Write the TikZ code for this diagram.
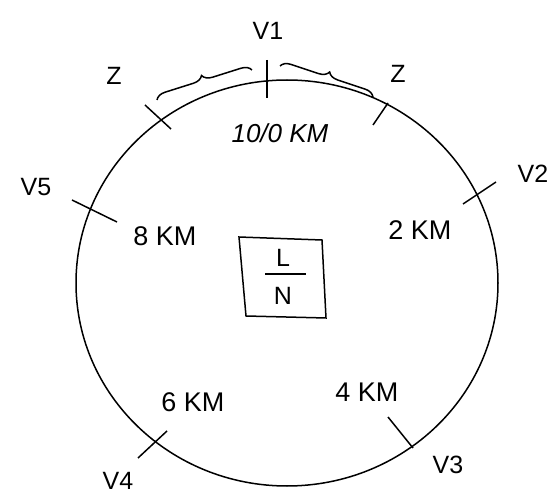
\documentclass[tikz,border=0pt]{standalone}
\usepackage{fontspec}
\setmainfont{Liberation Sans}
\usetikzlibrary{decorations.pathreplacing}

\begin{document}
\begin{tikzpicture}[x=1pt, y=-1pt, line width=1.5pt,
    etiqueta/.style={inner sep=0pt, font=\fontsize{25}{28}\selectfont},
    distancia/.style={inner sep=0pt, font=\fontsize{27}{30}\selectfont},
    llave/.style={decorate, decoration={brace, amplitude=10pt}}]
    \useasboundingbox (0,0) rectangle (555,497);

    % Anillo
    \draw (287,283) ellipse [x radius=211, y radius=203];

    % Marcas sobre el anillo
    \draw (267,60) -- (267,98);
    \draw (145,105) -- (171,129);
    \draw (373,125) -- (388,103);
    \draw (463,204) -- (496,182);
    \draw (72,200) -- (117,222);
    \draw (138,458) -- (167,431);
    \draw (388,417) -- (413,448);

    % Llaves de la zona
    \draw[llave] (157,100) -- (252,70);
    \draw[llave] (280,66) -- (373,97);

    % Nombres de los puntos
    \node[etiqueta] (v1) at (268,31) {V1};
    \node[etiqueta] (v2) at (533,174) {V2};
    \node[etiqueta] (v3) at (448,465) {V3};
    \node[etiqueta] (v4) at (118,481) {V4};
    \node[etiqueta] (v5) at (36,187) {V5};
    \node[etiqueta] (za) at (114,76) {Z};
    \node[etiqueta] (zb) at (398,74) {Z};

    % Distancias
    \node[distancia, font=\fontsize{26}{30}\selectfont\itshape] (km0) at (280,133) {10/0 KM};
    \node[distancia] (km2) at (420,230) {2 KM};
    \node[distancia] (km4) at (367,392) {4 KM};
    \node[distancia] (km6) at (193,402) {6 KM};
    \node[distancia] (km8) at (165,236) {8 KM};

    % Recuadro L/N
    \draw (239,237) -- (322,240) -- (326,318) -- (246,316) -- cycle;
    \node[etiqueta] (l) at (283,258) {L};
    \draw (265,274) -- (306,274);
    \node[etiqueta] (n) at (283,296) {N};
\end{tikzpicture}
\end{document}
